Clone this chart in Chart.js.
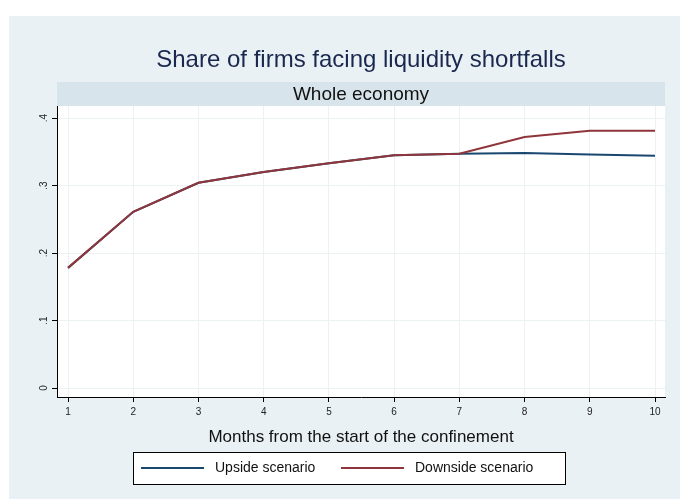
<!DOCTYPE html>
<html>
<head>
<meta charset="utf-8">
<script src="https://cdn.jsdelivr.net/npm/chart.js@4.4.0/dist/chart.umd.min.js"></script>
<style>
  html, body { margin: 0; padding: 0; background: #ffffff; }
  #wrap { width: 680px; height: 499px; }
</style>
</head>
<body>
<div id="wrap"><canvas id="liquidityChart"></canvas></div>
<script>
// data
var months = [1, 2, 3, 4, 5, 6, 7, 8, 9, 10];
var upside = [0.178, 0.261, 0.304, 0.320, 0.333, 0.345, 0.347, 0.348, 0.346, 0.344];
var downside = [0.178, 0.261, 0.304, 0.320, 0.333, 0.345, 0.347, 0.372, 0.381, 0.381];
var yTicks = [0, 0.1, 0.2, 0.3, 0.4];
var yTickLabels = ["0", ".1", ".2", ".3", ".4"];

var FONT = "'Liberation Sans', Arial, sans-serif";

function toPoints(vals) {
    return months.map(function (m, i) { return { x: m, y: vals[i] }; });
}

// background, title band, subtitle and boxed legend (Stata look)
var stataFrame = {
    id: 'stataFrame',
    beforeDraw: function (chart) {
        var ctx = chart.ctx;
        var area = chart.chartArea;
        ctx.save();
        ctx.fillStyle = '#ffffff';
        ctx.fillRect(0, 0, chart.width, chart.height);
        ctx.fillStyle = '#eaf1f4';
        ctx.fillRect(9, 16, chart.width - 9, chart.height - 16);
        // plot region
        ctx.fillStyle = '#ffffff';
        ctx.fillRect(area.left, area.top, area.right - area.left, area.bottom - area.top);
        // subtitle band
        ctx.fillStyle = '#d8e4eb';
        ctx.fillRect(area.left, 82, area.right - area.left, 24);
        var cx = (area.left + area.right) / 2;
        ctx.textAlign = 'center';
        ctx.textBaseline = 'middle';
        ctx.fillStyle = '#1a2850';
        ctx.font = '24px ' + FONT;
        ctx.fillText('Share of firms facing liquidity shortfalls', cx, 60);
        ctx.fillStyle = '#111111';
        ctx.font = '19px ' + FONT;
        ctx.fillText('Whole economy', cx, 95);
        ctx.restore();
    },
    afterDraw: function (chart) {
        var ctx = chart.ctx;
        ctx.save();
        ctx.fillStyle = '#ffffff';
        ctx.fillRect(133, 452, 432, 32);
        ctx.strokeStyle = '#000000';
        ctx.lineWidth = 1;
        ctx.strokeRect(133.5, 452.5, 432, 32);
        var starts = [141, 341];
        ctx.font = '14px ' + FONT;
        ctx.textBaseline = 'middle';
        ctx.textAlign = 'left';
        chart.data.datasets.forEach(function (ds, i) {
            ctx.strokeStyle = ds.borderColor;
            ctx.lineWidth = 2;
            ctx.beginPath();
            ctx.moveTo(starts[i], 468);
            ctx.lineTo(starts[i] + 63, 468);
            ctx.stroke();
            ctx.fillStyle = '#111111';
            ctx.fillText(ds.label, starts[i] + 74, 468);
        });
        ctx.restore();
    }
};

var liquidityChart = new Chart(document.getElementById('liquidityChart'), {
    type: 'line',
    data: {
        datasets: [{
            label: 'Upside scenario',
            data: toPoints(upside),
            borderColor: '#1a476f',
            borderWidth: 2,
            pointRadius: 0,
            tension: 0,
            order: 1
        }, {
            label: 'Downside scenario',
            data: toPoints(downside),
            borderColor: '#90353b',
            borderWidth: 2,
            pointRadius: 0,
            tension: 0,
            order: 0
        }]
    },
    options: {
        responsive: true,
        maintainAspectRatio: false,
        animation: false,
        layout: { padding: { top: 106, right: 15, bottom: 51, left: 0 } },
        plugins: {
            legend: { display: false },
            title: { display: false },
            tooltip: { enabled: false }
        },
        scales: {
            x: {
                type: 'linear',
                min: 0.831,
                max: 10.153,
                afterBuildTicks: function (s) {
                    s.ticks = months.map(function (m) { return { value: m }; });
                },
                afterFit: function (s) { s.height = 51; },
                border: { color: '#000000', width: 1 },
                grid: { color: '#eaf2f4', lineWidth: 1, tickColor: '#000000', tickLength: 5 },
                ticks: {
                    color: '#222222',
                    font: { family: FONT, size: 10 },
                    padding: 4,
                    maxRotation: 0,
                    autoSkip: false
                },
                title: {
                    display: true,
                    text: 'Months from the start of the confinement',
                    color: '#111111',
                    font: { family: FONT, size: 17 },
                    padding: { top: 6, bottom: 0 }
                }
            },
            y: {
                min: -0.0133,
                max: 0.4178,
                afterBuildTicks: function (s) {
                    s.ticks = yTicks.map(function (v) { return { value: v }; });
                },
                afterFit: function (s) { s.width = 57; },
                border: { color: '#000000', width: 1 },
                grid: { color: '#eaf2f4', lineWidth: 1, tickColor: '#000000', tickLength: 5 },
                ticks: {
                    color: '#222222',
                    font: { family: FONT, size: 10 },
                    padding: 4,
                    minRotation: 90,
                    maxRotation: 90,
                    crossAlign: 'center',
                    callback: function (v) {
                        var i = yTicks.indexOf(v);
                        return i >= 0 ? yTickLabels[i] : '';
                    }
                }
            }
        }
    },
    plugins: [stataFrame]
});
</script>
</body>
</html>
